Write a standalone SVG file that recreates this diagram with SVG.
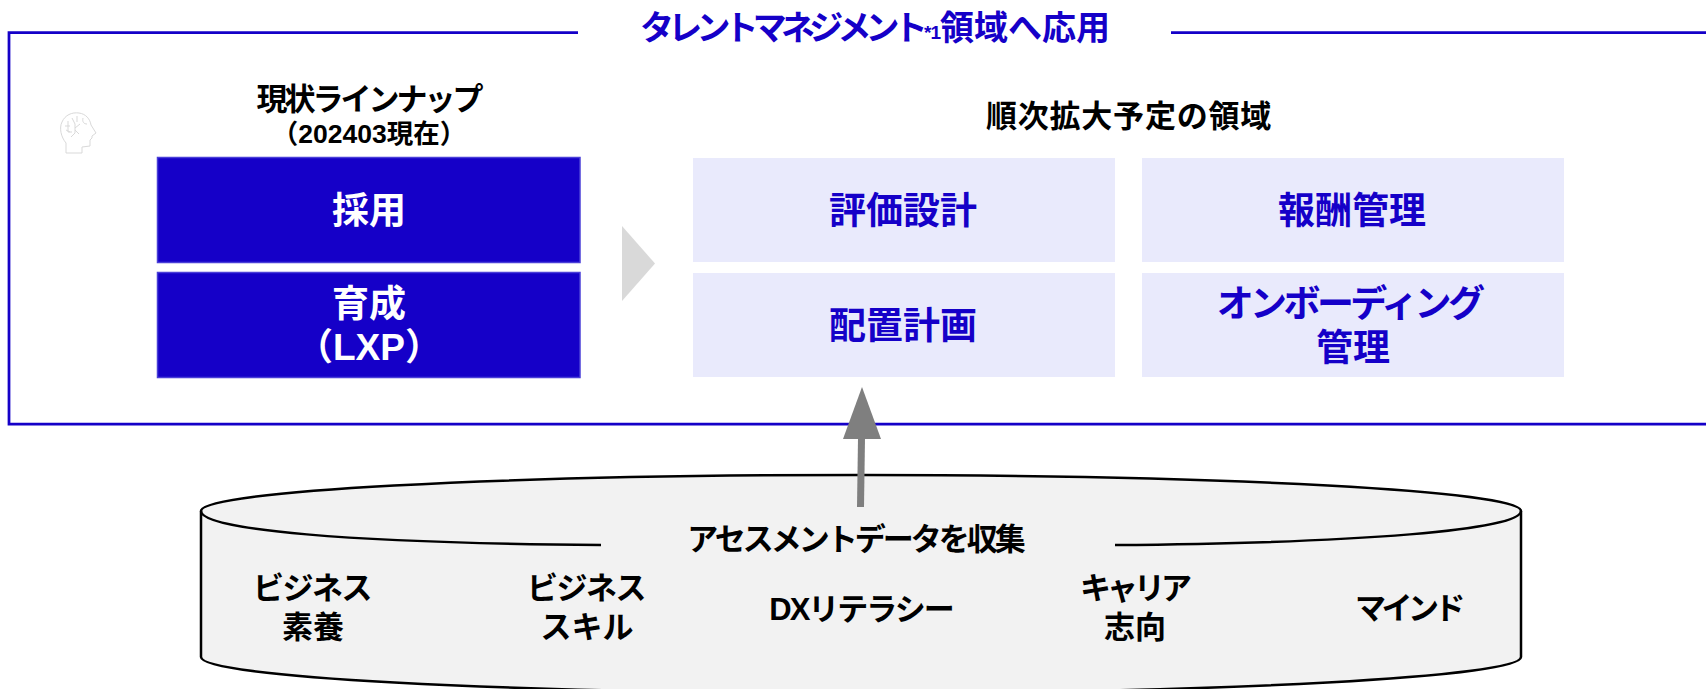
<svg xmlns="http://www.w3.org/2000/svg" width="1706" height="689" viewBox="0 0 1706 689">
<style>
text{font-family:"Liberation Sans","Noto Sans CJK JP",sans-serif;font-weight:700;text-anchor:middle}
.t31{font-size:31px;fill:#000}
.big{font-size:37px}
.dark rect{fill:#1500c8;stroke:#4a3fd8;stroke-width:1.500}
.dark text{fill:#fff}
.light rect{fill:#e9eafc}
.light text{fill:#1500c8}
.ln{fill:none;stroke:#000;stroke-width:2.500}
.frame{fill:none;stroke:#1500c8;stroke-width:2.750}
</style>
<rect width="1706" height="689" fill="#fff"/>
<g id="frame">
<path class="frame" d="M578 32.500H9V424H1706M1171 32.500H1706"/>
<text x="875" y="40" style="fill:#1500c8;font-size:34px"><tspan letter-spacing="-5.800">タレントマネジメント</tspan><tspan style="font-size:19px" letter-spacing="-1" dx="2" dy="-1">*1</tspan><tspan dy="1">領域へ応用</tspan></text>
</g>
<g id="icon" fill="none" stroke="#d9d9d9" stroke-width="1">
<path d="M66 153V143C61 137 59 128 62 122C65 115 72 112 79 113C86 114 90 119 91 125L96 133L92 136V138L90 140V146L82 147V153Z"/>
<path d="M68 121V132H72M72 118L75 124V133L71 137M77 116V122M75 128L80 124M75 130L79 134M83 118C82 122 84 124 87 124M65 126H70M66 130L70 132"/>
</g>
<g id="heading-current">
<text class="t31" x="368.500" y="110" letter-spacing="-3">現状ラインナップ</text>
<text x="369" y="143" style="font-size:26.500px">（202403現在）</text>
</g>
<text id="heading-planned" class="t31" x="1129" y="127" letter-spacing="0.800">順次拡大予定の領域</text>
<g id="node-saiyo" class="dark"><rect x="157.500" y="157.500" width="422.500" height="105"/><text class="big" x="369" y="224">採用</text></g>
<g id="node-ikusei" class="dark"><rect x="157.500" y="272.500" width="422.500" height="105"/><text class="big" x="369" y="317">育成</text><text class="big" x="369" y="360">（LXP）</text></g>
<polygon id="chevron" points="622,226 655,263.500 622,301" fill="#d9d9d9"/>
<g id="node-hyoka" class="light"><rect x="693" y="158" width="422" height="104"/><text class="big" x="903" y="224">評価設計</text></g>
<g id="node-haichi" class="light"><rect x="693" y="273" width="422" height="104"/><text class="big" x="903" y="339">配置計画</text></g>
<g id="node-hoshu" class="light"><rect x="1142" y="158" width="422" height="104"/><text class="big" x="1352" y="224">報酬管理</text></g>
<g id="node-onboarding" class="light"><rect x="1142" y="273" width="422" height="104"/><text class="big" x="1349" y="317" letter-spacing="-3.600">オンボーディング</text><text class="big" x="1353" y="361">管理</text></g>
<g id="cylinder">
<path d="M201 511C201 491 496 475 861 475S1521 491 1521 511V657C1521 677 1225 693 861 693S201 677 201 657Z" fill="#f2f2f2"/>
<path class="ln" d="M201 511C201 491 496 475 861 475S1521 491 1521 511V657C1521 677 1225 693 861 693S201 677 201 657Z"/>
<path class="ln" d="M201 511C201 530 350 543 601 545M1521 511C1521 530 1360 543 1115 545"/>
<text class="t31" x="855" y="550" letter-spacing="-3">アセスメントデータを収集</text>
</g>
<g id="connectors">
<path d="M860.500 507L861.500 438" stroke="#7f7f7f" stroke-width="7" fill="none"/>
<polygon points="862,387 843,439 881,439" fill="#7f7f7f"/>
</g>
<g id="item-soyo"><text class="t31" x="312" y="599" letter-spacing="-1.500">ビジネス</text><text class="t31" x="313" y="638">素養</text></g>
<g id="item-skill"><text class="t31" x="586" y="599" letter-spacing="-1.500">ビジネス</text><text class="t31" x="587" y="638">スキル</text></g>
<g id="item-dx"><text class="t31" x="861" y="620" letter-spacing="-2">DXリテラシー</text></g>
<g id="item-career"><text class="t31" x="1134" y="599" letter-spacing="-4">キャリア</text><text class="t31" x="1135" y="638">志向</text></g>
<g id="item-mind"><text class="t31" x="1408" y="619" letter-spacing="-4.500">マインド</text></g>
</svg>
